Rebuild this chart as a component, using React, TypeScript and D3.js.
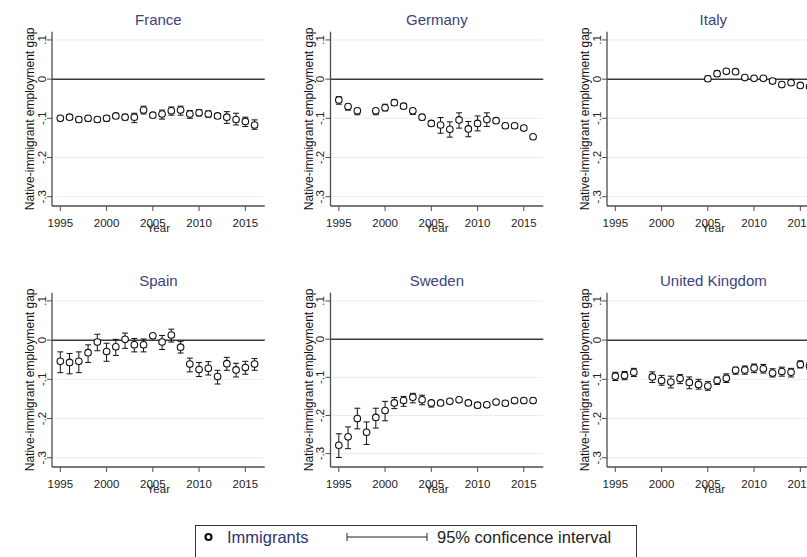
import React from 'react';
import * as d3 from 'd3';

// Survey years shown on every panel
const YEARS = [1995, 1996, 1997, 1998, 1999, 2000, 2001, 2002, 2003, 2004, 2005,
  2006, 2007, 2008, 2009, 2010, 2011, 2012, 2013, 2014, 2015, 2016];

const X_TICKS = [1995, 2000, 2005, 2010, 2015];
const Y_TICKS = [0.1, 0, -0.1, -0.2, -0.3];
const Y_TICK_LABELS = ['.1', '0', '-.1', '-.2', '-.3'];

const COUNTRIES = ['France', 'Germany', 'Italy', 'Spain', 'Sweden', 'United Kingdom'];

// Native-immigrant employment gap: point estimate and 95% CI bounds (null = no survey)
const franceEst = [-0.100, -0.097, -0.103, -0.100, -0.103, -0.100, -0.094, -0.097, -0.097, -0.079, -0.092,
  -0.089, -0.081, -0.079, -0.089, -0.086, -0.089, -0.094, -0.097, -0.103, -0.108, -0.117];
const franceLo = [-0.106, -0.103, -0.109, -0.107, -0.109, -0.107, -0.099, -0.104, -0.111, -0.089, -0.097,
  -0.102, -0.092, -0.092, -0.100, -0.094, -0.097, -0.100, -0.113, -0.117, -0.121, -0.128];
const franceHi = [-0.094, -0.091, -0.097, -0.093, -0.097, -0.093, -0.089, -0.090, -0.087, -0.069, -0.087,
  -0.079, -0.071, -0.069, -0.080, -0.078, -0.081, -0.088, -0.083, -0.087, -0.097, -0.104];

const germanyEst = [-0.053, -0.070, -0.081, null, -0.081, -0.073, -0.060, -0.069, -0.081, -0.097, -0.113,
  -0.117, -0.128, -0.104, -0.127, -0.113, -0.103, -0.106, -0.119, -0.119, -0.125, -0.147];
const germanyLo = [-0.064, -0.079, -0.091, null, -0.091, -0.081, -0.067, -0.075, -0.090, -0.104, -0.119,
  -0.138, -0.148, -0.125, -0.147, -0.132, -0.121, -0.113, -0.125, -0.125, -0.131, -0.152];
const germanyHi = [-0.045, -0.064, -0.075, null, -0.075, -0.064, -0.053, -0.062, -0.075, -0.091, -0.107,
  -0.098, -0.109, -0.086, -0.108, -0.094, -0.086, -0.100, -0.113, -0.113, -0.119, -0.142];

const italyEst = [null, null, null, null, null, null, null, null, null, null, 0.001,
  0.014, 0.020, 0.019, 0.004, 0.002, 0.002, -0.005, -0.014, -0.009, -0.016, -0.019];
const italyLo = [null, null, null, null, null, null, null, null, null, null, -0.006,
  0.008, 0.015, 0.014, -0.001, -0.003, -0.003, -0.010, -0.019, -0.014, -0.021, -0.024];
const italyHi = [null, null, null, null, null, null, null, null, null, null, 0.008,
  0.021, 0.025, 0.024, 0.009, 0.007, 0.007, 0.000, -0.008, -0.004, -0.011, -0.014];

const spainEst = [-0.054, -0.057, -0.054, -0.032, -0.005, -0.029, -0.017, 0.002, -0.012, -0.012, 0.011,
  -0.005, 0.013, -0.018, -0.061, -0.075, -0.072, -0.093, -0.060, -0.076, -0.070, -0.061];
const spainLo = [-0.083, -0.086, -0.083, -0.057, -0.027, -0.054, -0.039, -0.021, -0.030, -0.030, 0.007,
  -0.024, -0.005, -0.033, -0.081, -0.093, -0.089, -0.112, -0.077, -0.094, -0.087, -0.077];
const spainHi = [-0.030, -0.034, -0.030, -0.012, 0.015, -0.008, 0.002, 0.018, 0.004, 0.003, 0.014,
  0.012, 0.028, -0.003, -0.046, -0.057, -0.055, -0.077, -0.044, -0.059, -0.054, -0.047];

const swedenEst = [-0.278, -0.256, -0.208, -0.244, -0.205, -0.187, -0.167, -0.161, -0.152, -0.159, -0.167,
  -0.167, -0.163, -0.159, -0.167, -0.173, -0.172, -0.165, -0.168, -0.161, -0.161, -0.161];
const swedenLo = [-0.310, -0.287, -0.235, -0.276, -0.233, -0.214, -0.182, -0.176, -0.167, -0.172, -0.178,
  -0.173, -0.169, -0.164, -0.172, -0.180, -0.178, -0.171, -0.174, -0.167, -0.167, -0.167];
const swedenHi = [-0.248, -0.230, -0.181, -0.217, -0.181, -0.163, -0.153, -0.150, -0.142, -0.147, -0.161,
  -0.163, -0.157, -0.154, -0.162, -0.167, -0.166, -0.159, -0.162, -0.155, -0.155, -0.155];

const ukEst = [-0.092, -0.090, -0.082, null, -0.094, -0.103, -0.107, -0.098, -0.108, -0.113, -0.117,
  -0.103, -0.097, -0.077, -0.076, -0.071, -0.073, -0.084, -0.080, -0.082, -0.062, -0.066];
const ukLo = [-0.103, -0.101, -0.093, null, -0.108, -0.115, -0.122, -0.111, -0.124, -0.125, -0.128,
  -0.113, -0.108, -0.087, -0.087, -0.083, -0.084, -0.094, -0.092, -0.094, -0.071, -0.075];
const ukHi = [-0.082, -0.080, -0.072, null, -0.081, -0.090, -0.092, -0.088, -0.094, -0.100, -0.106,
  -0.094, -0.086, -0.069, -0.066, -0.061, -0.062, -0.073, -0.069, -0.072, -0.053, -0.057];

const SERIES = [
  { est: franceEst, lo: franceLo, hi: franceHi },
  { est: germanyEst, lo: germanyLo, hi: germanyHi },
  { est: italyEst, lo: italyLo, hi: italyHi },
  { est: spainEst, lo: spainLo, hi: spainHi },
  { est: swedenEst, lo: swedenLo, hi: swedenHi },
  { est: ukEst, lo: ukLo, hi: ukHi },
];

// Panel layout
const WIDTH = 807;
const HEIGHT = 557;
const COL_X = [52, 330.5, 607];
const ROW_Y = [31.7, 292.7];
const PLOT_W = 212.75;
const PLOT_H = 174.3;
const X_DOMAIN: [number, number] = [1994.1, 2017.1];
const Y_DOMAIN_DEFAULT: [number, number] = [-0.3237, 0.121];
const Y_DOMAIN_WIDE: [number, number] = [-0.335, 0.1217];

const FONT = "Arial, 'Liberation Sans', sans-serif";
const TITLE_COLOR = '#3c4280';
const AXIS_COLOR = '#4d4d4d';
const GRID_COLOR = '#e6eff1';

function Panel({ index }: { index: number }) {
  const col = index % 3;
  const row = Math.floor(index / 3);
  const left = COL_X[col];
  const top = ROW_Y[row];
  const bottom = top + PLOT_H;
  const right = left + PLOT_W;
  const name = COUNTRIES[index];
  const s = SERIES[index];

  const x = d3.scaleLinear().domain(X_DOMAIN).range([left, right]);
  const yDomain = name === 'Sweden' ? Y_DOMAIN_WIDE : Y_DOMAIN_DEFAULT;
  const y = d3.scaleLinear().domain(yDomain).range([bottom, top]);

  const points = YEARS.map((yr, i) => ({ yr, est: s.est[i], lo: s.lo[i], hi: s.hi[i] }))
    .filter((d) => d.est !== null);

  const cx = left + PLOT_W / 2;

  return (
    <g>
      {/* horizontal grid */}
      {Y_TICKS.filter((t) => t !== 0).map((t) => (
        <line key={'g' + t} x1={left} x2={right} y1={y(t)} y2={y(t)} stroke={GRID_COLOR} strokeWidth={1} />
      ))}
      {/* reference line at zero */}
      <line x1={left} x2={right} y1={y(0)} y2={y(0)} stroke="#3a3a3a" strokeWidth={1.5} />

      {/* confidence intervals */}
      {points.map((d) => (
        <g key={'ci' + d.yr} stroke="#111" strokeWidth={1}>
          <line x1={x(d.yr)} x2={x(d.yr)} y1={y(d.lo as number)} y2={y(d.hi as number)} />
          <line x1={x(d.yr) - 3} x2={x(d.yr) + 3} y1={y(d.lo as number)} y2={y(d.lo as number)} />
          <line x1={x(d.yr) - 3} x2={x(d.yr) + 3} y1={y(d.hi as number)} y2={y(d.hi as number)} />
        </g>
      ))}
      {/* point estimates */}
      {points.map((d) => (
        <circle key={'p' + d.yr} cx={x(d.yr)} cy={y(d.est as number)} r={3.3}
          fill="#fff" stroke="#111" strokeWidth={1.1} />
      ))}

      {/* y axis */}
      <line x1={left} x2={left} y1={top} y2={bottom} stroke={AXIS_COLOR} strokeWidth={1.3} />
      {Y_TICKS.map((t, i) => (
        <g key={'yt' + t}>
          <line x1={left - 5} x2={left} y1={y(t)} y2={y(t)} stroke={AXIS_COLOR} strokeWidth={1} />
          <text transform={`translate(${left - 6.5},${y(t)}) rotate(-90)`} textAnchor="middle"
            fontSize={11.5} fontFamily={FONT} fill="#222">{Y_TICK_LABELS[i]}</text>
        </g>
      ))}
      <text transform={`translate(${left - 18},${top + PLOT_H / 2}) rotate(-90)`} textAnchor="middle"
        fontSize={12} fontFamily={FONT} fill="#111">Native-immigrant employment gap</text>

      {/* x axis */}
      <line x1={left} x2={right} y1={bottom} y2={bottom} stroke={AXIS_COLOR} strokeWidth={1.3} />
      {X_TICKS.map((t) => (
        <g key={'xt' + t}>
          <line x1={x(t)} x2={x(t)} y1={bottom} y2={bottom + 5} stroke={AXIS_COLOR} strokeWidth={1} />
          <text x={x(t)} y={bottom + 20.7} textAnchor="middle" fontSize={11.5} fontFamily={FONT}
            fill="#222">{t}</text>
        </g>
      ))}
      <text x={cx} y={bottom + 25.7} textAnchor="middle" fontSize={11.5} fontFamily={FONT}
        fill="#222">Year</text>

      {/* panel title */}
      <text x={cx} y={top - 6.5} textAnchor="middle" fontSize={15} fontFamily={FONT}
        fill={TITLE_COLOR}>{name}</text>
    </g>
  );
}

export default function App() {
  return (
    <svg width={WIDTH} height={HEIGHT} viewBox={`0 0 ${WIDTH} ${HEIGHT}`}
      style={{ position: 'absolute', left: 0, top: 0, background: '#fff' }}>
      <rect x={0} y={0} width={WIDTH} height={HEIGHT} fill="#fff" />
      {COUNTRIES.map((c, i) => <Panel key={c} index={i} />)}

      {/* legend */}
      <rect x={195.5} y={525.5} width={441} height={45} fill="#fff" stroke="#333" strokeWidth={1} />
      <circle cx={208.5} cy={537} r={3} fill="#fff" stroke="#111" strokeWidth={2.2} />
      <text x={227} y={543.2} fontSize={16.5} fontFamily={FONT} fill="#2e3272">Immigrants</text>
      <g stroke="#222" strokeWidth={1}>
        <line x1={347} x2={427} y1={537} y2={537} />
        <line x1={347} x2={347} y1={533} y2={541} />
        <line x1={427} x2={427} y1={533} y2={541} />
      </g>
      <text x={437} y={543.2} fontSize={16.5} fontFamily={FONT} fill="#222">95% conficence interval</text>
    </svg>
  );
}
